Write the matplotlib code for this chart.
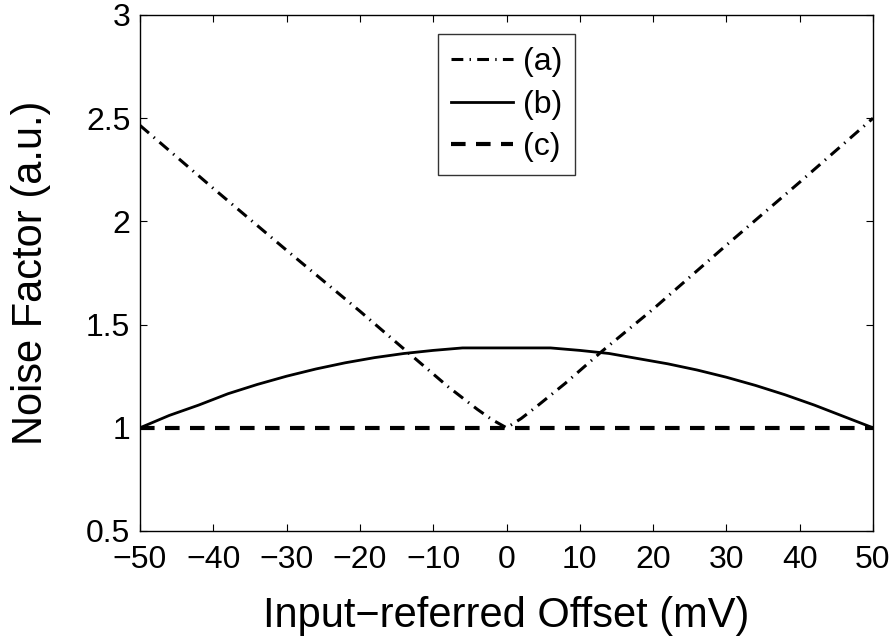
import numpy as np
import matplotlib
matplotlib.use('Agg')
import matplotlib.pyplot as plt

plt.rcParams['font.family'] = ['Liberation Sans', 'DejaVu Sans']
plt.rcParams['lines.scale_dashes'] = False

# curve (a) - V shaped
x_a = [-50, -40, -30, -20, -13.6, -8, -4, -2, 0, 2, 4, 8, 13, 20, 30, 40, 50]
y_a = [2.465, 2.16, 1.86, 1.565, 1.37, 1.2, 1.09, 1.04, 1.0, 1.045, 1.1, 1.215, 1.37, 1.575, 1.885, 2.19, 2.5]

# curve (b) - rounded top
x_b = [-50, -46, -42, -38, -34, -30, -26, -22, -18, -14, -10, -6, 0,
       6, 10, 14, 18, 22, 26, 30, 34, 38, 42, 46, 50]
y_b = [1.0, 1.06, 1.11, 1.165, 1.21, 1.25, 1.285, 1.315, 1.34, 1.36, 1.375, 1.387, 1.387,
       1.387, 1.375, 1.36, 1.335, 1.31, 1.28, 1.245, 1.205, 1.16, 1.11, 1.055, 1.0]

# curve (c) - flat
x_c = [-50, 50]
y_c = [1.0, 1.0]

labels = ['(a)', '(b)', '(c)']

fig = plt.figure(figsize=(8.94, 6.39), dpi=100)
ax = fig.add_axes([140/894, 1 - 531/639, (873-140)/894, (531-15)/639])

ax.plot(x_a, y_a, color='black', lw=2.2, dashes=(8.5, 4.5, 1, 4.5), label=labels[0])
ax.plot(x_b, y_b, color='black', lw=2.0, linestyle='-', label=labels[1])
ax.plot(x_c, y_c, color='black', lw=3.0, dashes=(10.5, 7.5), label=labels[2])

ax.set_xlim(-50, 50)
ax.set_ylim(0.5, 3)
ax.set_xticks(np.arange(-50, 51, 10))
ax.set_yticks([0.5, 1, 1.5, 2, 2.5, 3])
ax.set_yticklabels(['0.5', '1', '1.5', '2', '2.5', '3'])
ax.tick_params(direction='in', length=5, width=0.8, labelsize=23,
               top=True, right=True)
ax.tick_params(axis='x', pad=10)
ax.tick_params(axis='y', pad=7)
for s in ax.spines.values():
    s.set_linewidth(1.0)

ax.set_xlabel('Input\u2212referred Offset (mV)', fontsize=30, labelpad=15)
ax.set_ylabel('Noise Factor (a.u.)', fontsize=30, labelpad=25)

leg = ax.legend(loc='upper center', fontsize=23, frameon=True, fancybox=False,
                edgecolor='black', handlelength=1.95, handletextpad=0.3,
                borderpad=0.4, labelspacing=0.4, borderaxespad=0.6)
leg.get_frame().set_linewidth(1.0)

plt.savefig('out.png', dpi=100)
plt.close()
